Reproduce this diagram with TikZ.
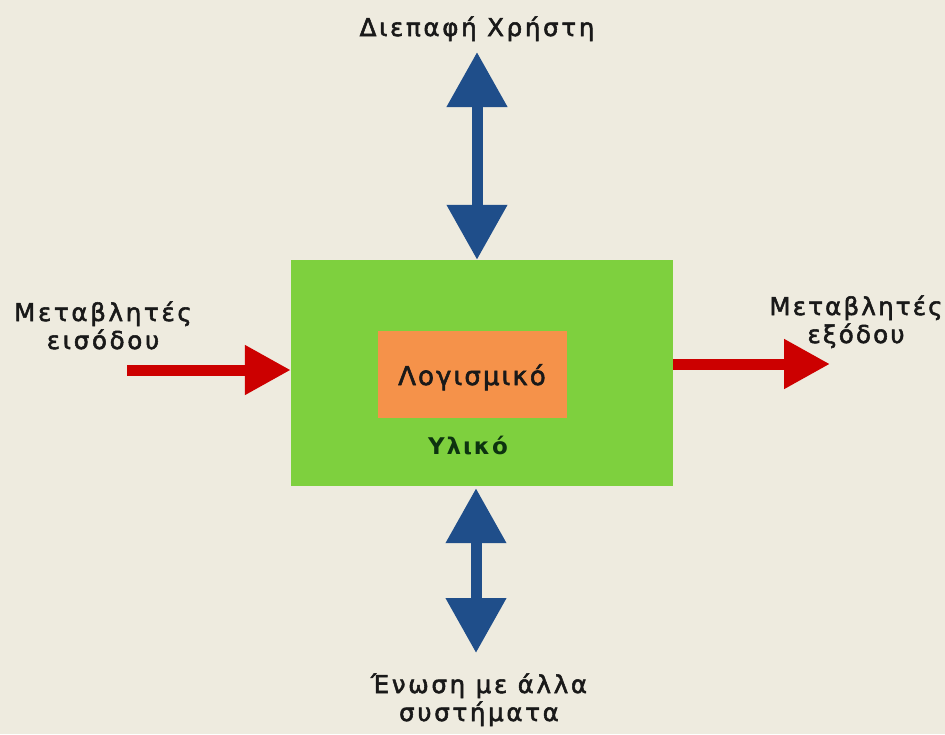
\documentclass[tikz,border=0pt]{standalone}
\usepackage{fontspec}
\setmainfont{DejaVu Sans}
\newfontfamily\lblfont{DejaVu Sans}[FakeBold=2.2]
\newfontfamily\lblbold{DejaVu Sans Bold}
\usetikzlibrary{arrows.meta,calc}
\definecolor{paper}{HTML}{EEEBDF}
\definecolor{hwgreen}{HTML}{7ED03E}
\definecolor{swor}{HTML}{F5924A}
\definecolor{ioblue}{HTML}{1F4E8A}
\definecolor{iored}{HTML}{CC0000}
\definecolor{hwtext}{HTML}{0D3310}
\tikzset{
  lbl/.style={font=\lblfont\addfontfeature{LetterSpace=11}\fontsize{24.5}{28}\selectfont,
    align=center, text=black!90, inner sep=0pt, anchor=base},
  bluelink/.style={draw=ioblue, line width=11pt,
    {Triangle[width=58pt,length=55pt]}-{Triangle[width=58pt,length=55pt]}},
  redlink/.style={draw=iored, line width=11pt,
    -{Triangle[width=47pt,length=46pt]}},
}
\begin{document}
\begin{tikzpicture}[x=1pt,y=-1pt]
  \fill[paper] (0,0) rectangle (945,734);
  \useasboundingbox (0,0) rectangle (945,734);

  % hardware box and software inside it
  \node[fill=hwgreen, minimum width=382pt, minimum height=226pt, inner sep=0pt]
    (box) at (482,373) {};
  \node[fill=swor, minimum width=189pt, minimum height=87pt, inner sep=0pt]
    (soft) at (472.5,374.5) {};
  \node[font=\lblfont\addfontfeature{LetterSpace=8}\fontsize{26}{28}\selectfont,
    text=black!90, inner sep=0pt, anchor=base] (softlbl) at (472,385) {Λογισμικό};
  \node[font=\lblbold\addfontfeature{LetterSpace=8}\fontsize{23}{26}\selectfont,
    text=hwtext, inner sep=0pt, anchor=base] (hw) at (468,454) {Υλικό};

  % labels (base anchor = baseline of the last line)
  \node[lbl] (ui) at (477,36) {Διεπαφή Χρήστη};
  \node[lbl] (in) at (103,349) {Μεταβλητές\\εισόδου};
  \node[lbl, font=\lblfont\addfontfeature{LetterSpace=9}\fontsize{24.5}{28}\selectfont]
    (out) at (856,343) {Μεταβλητές\\εξόδου};
  \node[lbl] (ext) at (479,721) {Ένωση με άλλα\\συστήματα};

  % connectors
  \coordinate (uitip) at (477,52);
  \draw[bluelink] (uitip) -- (uitip |- box.north);
  \coordinate (exttip) at (476,653);
  \draw[bluelink] (exttip |- box.south) ++(0,2) coordinate (extbox) (extbox) -- (exttip);
  \coordinate (inend) at (127,370);
  \draw[redlink] (inend) -- (inend -| box.west);
  \coordinate (outtip) at (830,364);
  \draw[redlink] (outtip -| box.east) -- (outtip);
\end{tikzpicture}
\end{document}
